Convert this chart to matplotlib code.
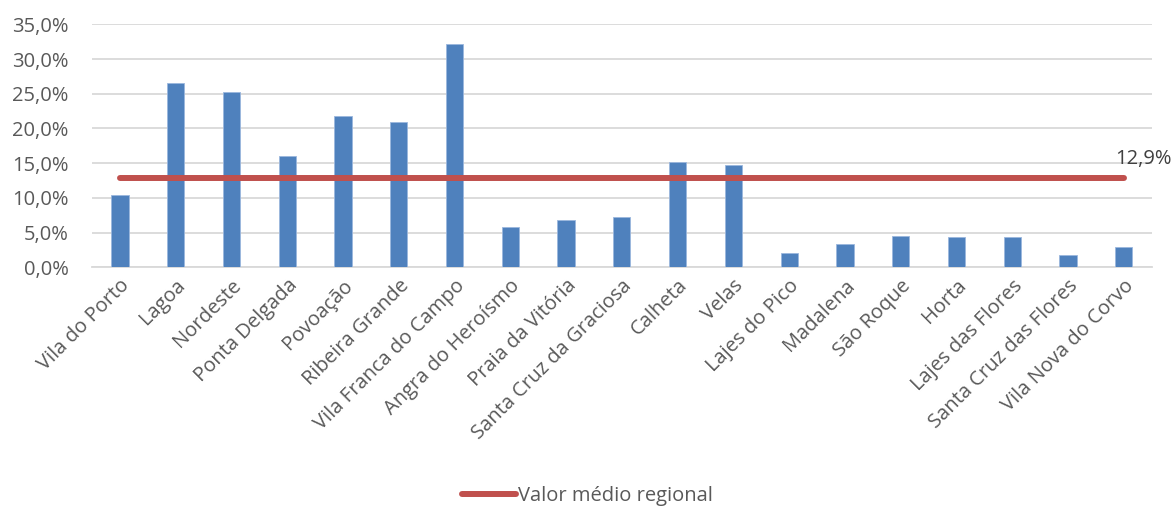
import matplotlib
matplotlib.use("Agg")
import matplotlib.pyplot as plt
from matplotlib.ticker import FuncFormatter
import numpy as np

categories = ["Vila do Porto", "Lagoa", "Nordeste", "Ponta Delgada", "Povoação",
              "Ribeira Grande", "Vila Franca do Campo", "Angra do Heroísmo",
              "Praia da Vitória", "Santa Cruz da Graciosa", "Calheta", "Velas",
              "Lajes do Pico", "Madalena", "São Roque", "Horta", "Lajes das Flores",
              "Santa Cruz das Flores", "Vila Nova do Corvo"]
values = [10.4, 26.5, 25.3, 16.1, 21.8, 20.9, 32.1, 5.8, 6.8, 7.2, 15.1, 14.8,
          2.1, 3.3, 4.5, 4.3, 4.4, 1.7, 2.9]
regional_mean = 12.9
legend_label = "Valor médio regional"

plt.rcParams['font.family'] = ['Open Sans', 'DejaVu Sans']
txt = '#595959'
fs = 14.5

fig = plt.figure(figsize=(11.75, 5.11), dpi=100)
ax = fig.add_axes([92/1175, 1-267.3/511, (1151.7-92)/1175, (267.3-24.3)/511])

x = np.arange(len(categories))
ax.bar(x, values, width=0.31, color='#4F81BD', edgecolor='#9BB7DD', linewidth=0.6, zorder=3)
ax.plot([x[0], x[-1]], [regional_mean]*2, color='#C0504D', linewidth=4.3,
        solid_capstyle='round', zorder=4, label=legend_label)
ax.text(x[-1] - 0.16, regional_mean + 1.3, f"{regional_mean:.1f}".replace('.', ',') + "%",
        fontsize=fs, color='#404040', ha='left', va='bottom')

ax.set_xlim(-0.5, len(categories) - 0.5)
ax.set_ylim(0, 35)
ax.set_yticks(np.arange(0, 35.1, 5))
ax.yaxis.set_major_formatter(FuncFormatter(lambda v, p: f"{v:.1f}".replace('.', ',') + "%"))
ax.grid(axis='y', color='#D9D9D9', linewidth=1.3, zorder=0)
for s in ['top', 'right', 'left']:
    ax.spines[s].set_visible(False)
ax.spines['bottom'].set_color('#D9D9D9')
ax.spines['bottom'].set_linewidth(1.3)
ax.tick_params(axis='both', length=0, labelsize=fs, colors=txt)
ax.tick_params(axis='y', pad=17)
ax.set_xticks(x)
ax.set_xticklabels(categories, rotation=45, ha='right', rotation_mode='anchor')
ax.tick_params(axis='x', pad=6)

fig.legend(loc='lower center', bbox_to_anchor=(0.5, -0.025), frameon=False, fontsize=fs,
           labelcolor=txt, handlelength=2.7, handletextpad=0.1)

fig.savefig('out.png', dpi=100)
